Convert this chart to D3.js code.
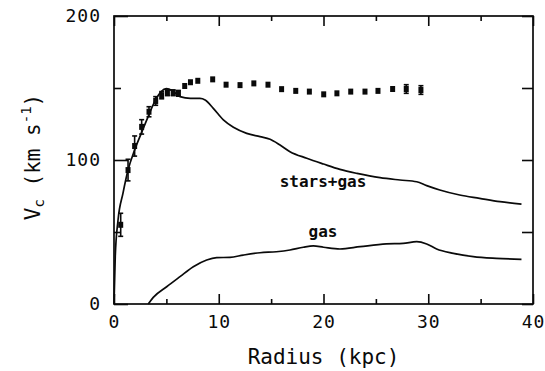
<!DOCTYPE html>
<html>
<head>
<meta charset="utf-8">
<script src="https://cdn.jsdelivr.net/npm/d3@7"></script>
<style>
    body { margin: 0; background: #fff; }
    svg { display: block; }
</style>
</head>
<body>
<div id="chart"></div>
<script>
// points observes (rayon kpc, vitesse km/s, erreur)
var obsR = [0.64, 1.34, 1.97, 2.64, 3.34, 3.98, 4.55, 5.1, 5.65, 6.15, 6.75, 7.3, 8.0, 9.42, 10.7, 12.03, 13.35, 14.7, 16.0, 17.35, 18.65, 20.02, 21.28, 22.6, 23.96, 25.2, 26.6, 27.9, 29.3];
var obsV = [55, 93, 109.7, 123, 133.5, 141, 145, 146.7, 146.7, 146.3, 151.4, 154, 155, 156, 152.3, 152, 153.2, 152.3, 149.2, 148, 147.5, 145.6, 146.3, 147.5, 147.5, 148, 149.3, 149.3, 148.6];
var obsErr = [8, 7.5, 7, 5, 3.5, 3, 2.5, 2, 2, 2, 0, 0, 0, 0, 0, 0, 0, 0, 0, 0, 0, 0, 0, 0, 0, 0, 0, 3, 3];

// courbe etoiles + gaz
var starsGasR = [0, 0.12, 0.38, 0.86, 1.34, 1.97, 2.6, 3.25, 3.88, 4.5, 5.0, 5.6, 6.3, 7.3, 8.2, 8.7, 9.48, 10.44, 11.4, 12.67, 13.94, 14.9, 15.85, 16.8, 18.4, 20.0, 21.57, 23.2, 25.4, 27.3, 28.9, 29.85, 31.1, 33.0, 34.9, 36.85, 38.9];
var starsGasV = [0, 33, 58, 77, 93, 107, 118.5, 130, 140.5, 147.5, 149.5, 148, 144, 142.8, 142.8, 141.7, 135.9, 127.8, 122.7, 118.5, 116.2, 114.4, 110.4, 105.8, 101.2, 97.2, 93.5, 90.7, 87.7, 86.1, 84.9, 82.2, 79.2, 75.7, 73.4, 71.1, 69.4];

// courbe gaz
var gasR = [3.27, 3.75, 5.03, 6.3, 7.57, 8.85, 9.8, 11.07, 12.35, 13.94, 15.5, 16.8, 18.07, 19.03, 20.0, 21.57, 23.5, 26.0, 27.6, 28.9, 29.85, 30.8, 32.4, 34.3, 36.5, 38.9];
var gasV = [0, 4.6, 12, 19, 25.9, 30.6, 32.2, 32.4, 34, 35.6, 36.3, 37.5, 39.4, 40.3, 39.4, 38.2, 39.8, 41.7, 42.1, 43.3, 41.7, 38.2, 35.2, 32.9, 31.7, 31.0];

var xTicks = [0, 10, 20, 30, 40];
var xMinor = [5, 15, 25, 35];
var yTicks = [0, 100, 200];
var yMinor = [50, 150];

var width = 545, height = 371;
var margin = {top: 16, right: 12, bottom: 67, left: 114};
var ink = "#0a0a0a";

var svg = d3.select("#chart").append("svg")
    .attr("width", width)
    .attr("height", height);

var x = d3.scaleLinear().domain([0, 40]).range([margin.left, width - margin.right]);
var y = d3.scaleLinear().domain([0, 200]).range([height - margin.bottom, margin.top]);

function styleAxis(g) {
    g.select(".domain").remove();
    g.selectAll(".tick line").attr("stroke", ink).attr("stroke-width", 1.6);
    g.selectAll(".tick text")
        .attr("fill", ink)
        .style("font-family", "'DejaVu Sans Mono', monospace")
        .style("font-size", "18px")
        .style("letter-spacing", "1px");
}

// axe du bas
svg.append("g")
    .attr("transform", "translate(0," + y(0) + ")")
    .call(d3.axisBottom(x).tickValues(xTicks).tickSize(-10).tickPadding(11).tickFormat(d3.format("d")))
    .call(styleAxis);
svg.append("g")
    .attr("transform", "translate(0," + y(0) + ")")
    .call(d3.axisBottom(x).tickValues(xMinor).tickSize(-5).tickFormat(""))
    .call(styleAxis);

// axe du haut
svg.append("g")
    .attr("transform", "translate(0," + y(200) + ")")
    .call(d3.axisTop(x).tickValues(xTicks).tickSize(-10).tickFormat(""))
    .call(styleAxis);
svg.append("g")
    .attr("transform", "translate(0," + y(200) + ")")
    .call(d3.axisTop(x).tickValues(xMinor).tickSize(-5).tickFormat(""))
    .call(styleAxis);

// axe de gauche
svg.append("g")
    .attr("transform", "translate(" + x(0) + ",0)")
    .call(d3.axisLeft(y).tickValues(yTicks).tickSize(-14).tickPadding(13).tickFormat(d3.format("d")))
    .call(styleAxis);
svg.append("g")
    .attr("transform", "translate(" + x(0) + ",0)")
    .call(d3.axisLeft(y).tickValues(yMinor).tickSize(-7).tickFormat(""))
    .call(styleAxis);

// axe de droite
svg.append("g")
    .attr("transform", "translate(" + x(40) + ",0)")
    .call(d3.axisRight(y).tickValues(yTicks.concat(yMinor)).tickSize(-11).tickFormat(""))
    .call(styleAxis);

// cadre
svg.append("rect")
    .attr("x", x(0))
    .attr("y", y(200))
    .attr("width", x(40) - x(0))
    .attr("height", y(0) - y(200))
    .attr("fill", "none")
    .attr("stroke", ink)
    .attr("stroke-width", 1.7);

var line = d3.line()
    .x(function (d) { return x(d[0]); })
    .y(function (d) { return y(d[1]); })
    .curve(d3.curveMonotoneX);

svg.append("path")
    .datum(d3.zip(starsGasR, starsGasV))
    .attr("d", line)
    .attr("fill", "none")
    .attr("stroke", ink)
    .attr("stroke-width", 1.7);

svg.append("path")
    .datum(d3.zip(gasR, gasV))
    .attr("d", line)
    .attr("fill", "none")
    .attr("stroke", ink)
    .attr("stroke-width", 1.7);

// barres d'erreur
var obs = d3.zip(obsR, obsV, obsErr);
var bars = svg.append("g").selectAll("g")
    .data(obs.filter(function (d) { return d[2] > 0; }))
    .enter().append("g")
    .attr("stroke", ink)
    .attr("stroke-width", 1.6);
bars.append("line")
    .attr("x1", function (d) { return x(d[0]); })
    .attr("x2", function (d) { return x(d[0]); })
    .attr("y1", function (d) { return y(d[1] - d[2]); })
    .attr("y2", function (d) { return y(d[1] + d[2]); });
bars.append("line")
    .attr("x1", function (d) { return x(d[0]) - 2.5; })
    .attr("x2", function (d) { return x(d[0]) + 2.5; })
    .attr("y1", function (d) { return y(d[1] + d[2]); })
    .attr("y2", function (d) { return y(d[1] + d[2]); });
bars.append("line")
    .attr("x1", function (d) { return x(d[0]) - 2.5; })
    .attr("x2", function (d) { return x(d[0]) + 2.5; })
    .attr("y1", function (d) { return y(d[1] - d[2]); })
    .attr("y2", function (d) { return y(d[1] - d[2]); });

// carres des points
svg.append("g").selectAll("rect")
    .data(obs)
    .enter().append("rect")
    .attr("x", function (d) { return x(d[0]) - 2.5; })
    .attr("y", function (d) { return y(d[1]) - 3; })
    .attr("width", 5)
    .attr("height", 6)
    .attr("fill", ink);

// etiquettes des courbes
svg.append("text")
    .attr("x", 323)
    .attr("y", 187)
    .attr("text-anchor", "middle")
    .attr("fill", ink)
    .style("font-family", "'DejaVu Sans Mono', monospace")
    .style("font-size", "16px")
    .style("font-weight", "bold")
    .text("stars+gas");
svg.append("text")
    .attr("x", 323)
    .attr("y", 237)
    .attr("text-anchor", "middle")
    .attr("fill", ink)
    .style("font-family", "'DejaVu Sans Mono', monospace")
    .style("font-size", "16px")
    .style("font-weight", "bold")
    .text("gas");

// titres des axes
svg.append("text")
    .attr("x", (x(0) + x(40)) / 2)
    .attr("y", 364)
    .attr("text-anchor", "middle")
    .attr("fill", ink)
    .style("font-family", "'DejaVu Sans Mono', monospace")
    .style("font-size", "21px")
    .text("Radius (kpc)");

var yTitle = svg.append("text")
    .attr("transform", "translate(40,157) rotate(-90)")
    .attr("text-anchor", "middle")
    .attr("fill", ink)
    .style("font-family", "'DejaVu Sans Mono', monospace")
    .style("font-size", "21px");
yTitle.append("tspan").text("V");
yTitle.append("tspan").attr("dy", 4).style("font-size", "14px").text("c");
yTitle.append("tspan").attr("dy", -4).text(" (km s");
yTitle.append("tspan").attr("dy", -9).style("font-size", "14px").text("-1");
yTitle.append("tspan").attr("dy", 9).text(")");
</script>
</body>
</html>
